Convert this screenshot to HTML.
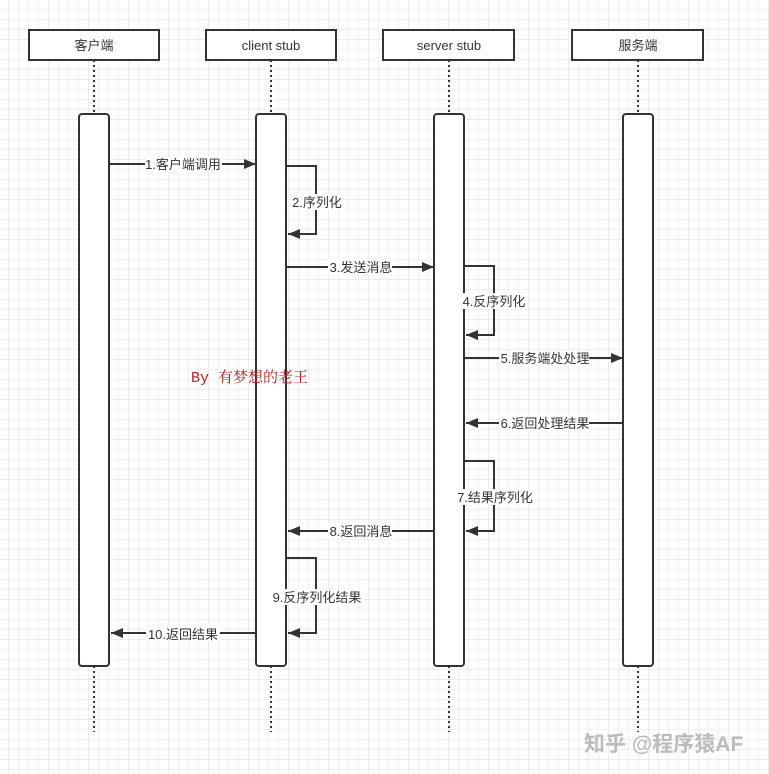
<!DOCTYPE html>
<html><head><meta charset="utf-8"><style>
html,body{margin:0;padding:0;background:#fff;}
svg{display:block;}
text{font-family:"Liberation Sans","Noto Sans CJK SC",sans-serif;font-size:13px;fill:#333;}
</style></head><body>
<svg width="769" height="774" viewBox="0 0 769 774" xmlns="http://www.w3.org/2000/svg">
<defs>
<pattern id="g" width="10" height="10" patternUnits="userSpaceOnUse" x="9" y="0">
<path d="M10 0V10M0 10H10" fill="none" stroke="#e6e6e6" stroke-width="1"/>
</pattern>
<pattern id="G" width="40" height="40" patternUnits="userSpaceOnUse" x="9" y="0">
<path d="M40 0V40M0 40H40" fill="none" stroke="#d8d8d8" stroke-width="1"/>
</pattern>
<marker id="a" markerWidth="12" markerHeight="10" refX="12" refY="5" orient="auto" markerUnits="userSpaceOnUse">
<path d="M0 0L12 5L0 10z" fill="#333"/>
</marker>
</defs>
<rect width="769" height="774" fill="url(#g)"/>
<rect width="769" height="774" fill="url(#G)"/>
<g stroke="#333" stroke-width="2" stroke-dasharray="2,3" fill="none">
<path d="M94 60V114M271 60V114M449 60V114M638 60V114"/>
<path d="M94 666V732M271 666V732M449 666V732M638 666V732"/>
</g>
<g fill="#fff" stroke="#333" stroke-width="2">
<rect x="29" y="30" width="130" height="30"/>
<rect x="206" y="30" width="130" height="30"/>
<rect x="383" y="30" width="131" height="30"/>
<rect x="572" y="30" width="131" height="30"/>
<rect x="79" y="114" width="30" height="552" rx="3"/>
<rect x="256" y="114" width="30" height="552" rx="3"/>
<rect x="434" y="114" width="30" height="552" rx="3"/>
<rect x="623" y="114" width="30" height="552" rx="3"/>
</g>
<g text-anchor="middle">
<text x="94" y="50">客户端</text>
<text x="271" y="50">client stub</text>
<text x="449" y="50">server stub</text>
<text x="638" y="50">服务端</text>
</g>
<g stroke="#333" stroke-width="2" fill="none" marker-end="url(#a)">
<path d="M109 164H256"/>
<path d="M286 166H316V234H288"/>
<path d="M286 267H434"/>
<path d="M464 266H494V335H466"/>
<path d="M464 358H623"/>
<path d="M623 423H466"/>
<path d="M464 461H494V531H466"/>
<path d="M434 531H288"/>
<path d="M286 558H316V633H288"/>
<path d="M256 633H111"/>
</g>
<g text-anchor="middle">
<rect x="145" y="156" width="77" height="16" fill="#fff"/><text x="183" y="169">1.客户端调用</text>
<rect x="292" y="194" width="50" height="16" fill="#fff"/><text x="317" y="207">2.序列化</text>
<rect x="328" y="259" width="64" height="16" fill="#fff"/><text x="361" y="272">3.发送消息</text>
<rect x="463" y="293" width="63" height="16" fill="#fff"/><text x="494" y="306">4.反序列化</text>
<rect x="499" y="350" width="90" height="16" fill="#fff"/><text x="545" y="363">5.服务端处处理</text>
<rect x="499" y="415" width="90" height="16" fill="#fff"/><text x="545" y="428">6.返回处理结果</text>
<rect x="456" y="489" width="79" height="16" fill="#fff"/><text x="495" y="502">7.结果序列化</text>
<rect x="328" y="523" width="64" height="16" fill="#fff"/><text x="361" y="536">8.返回消息</text>
<rect x="271" y="589" width="92" height="16" fill="#fff"/><text x="317" y="602">9.反序列化结果</text>
<rect x="146" y="625" width="74" height="16" fill="#fff"/><text x="183" y="639">10.返回结果</text>
</g>
<text x="191" y="382" style="font-family:'Liberation Mono','Noto Serif CJK SC',monospace;font-size:15px;fill:#b22222">By 有梦想的老王</text>
<text x="584" y="751" style="font-size:21px;fill:#bbb;font-weight:bold">知乎 @程序猿AF</text>
</svg>
</body></html>
